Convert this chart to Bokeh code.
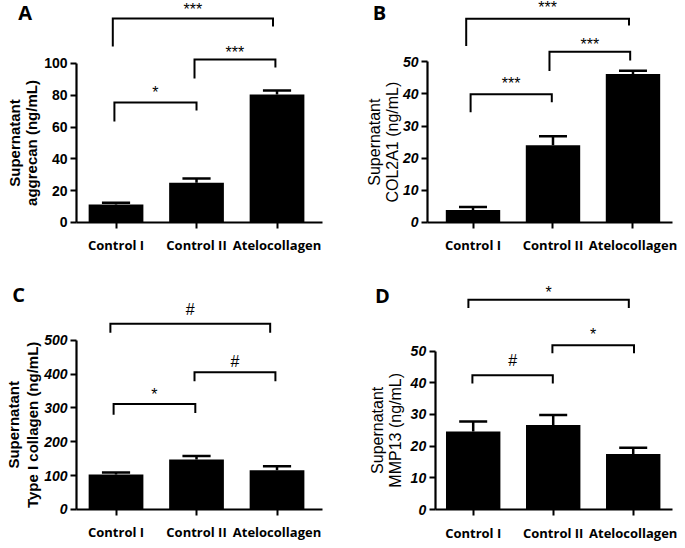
import math
from bokeh.plotting import figure
from bokeh.models import FixedTicker, Range1d
from bokeh.core.properties import value
from bokeh.layouts import column, row
from bokeh.embed import file_html
from bokeh.resources import INLINE

# ---------------- data ----------------
categories = ["Control I", "Control II", "Atelocollagen"]

aggrecan_mean = [11.3, 25.0, 80.5]
aggrecan_err = [1.1, 2.7, 2.5]
col2a1_mean = [3.9, 24.0, 46.2]
col2a1_err = [0.9, 2.8, 1.0]
type1_mean = [103, 148, 116]
type1_err = [6, 10, 12]
mmp13_mean = [24.6, 26.7, 17.5]
mmp13_err = [3.2, 3.1, 2.0]

aggrecan_ticks = [0, 20, 40, 60, 80, 100]
col2a1_ticks = [0, 10, 20, 30, 40, 50]
type1_ticks = [0, 100, 200, 300, 400, 500]
mmp13_ticks = [0, 10, 20, 30, 40, 50]

# significance brackets: left x, right x, top y, left leg end, right leg end, mark, mark y
aggrecan_br_left = [-0.04, 0.975, -0.02]
aggrecan_br_right = [1.95, 1.98, 1.0]
aggrecan_br_top = [128.3, 102.5, 75.5]
aggrecan_leg_left = [110.7, 90.6, 63.5]
aggrecan_leg_right = [123.3, 97.5, 70.4]
aggrecan_sig = ["***", "***", "*"]
aggrecan_sig_y = [134.2, 106.9, 81.8]

col2a1_br_left = [-0.085, 0.956, -0.03]
col2a1_br_right = [1.95, 1.965, 0.985]
col2a1_br_top = [63.4, 53.1, 39.9]
col2a1_leg_left = [54.9, 47.1, 34.3]
col2a1_leg_right = [61.3, 50.4, 37.4]
col2a1_sig = ["***", "***", "***"]
col2a1_sig_y = [66.9, 55.5, 43.2]

type1_br_left = [-0.07, 0.975, -0.03]
type1_br_right = [1.915, 1.98, 0.985]
type1_br_top = [548.6, 405.1, 311.4]
type1_leg_left = [522.0, 378.4, 279.7]
type1_leg_right = [522.0, 378.4, 284.7]
type1_sig = ["#", "#", "*"]
type1_sig_y = [591.0, 437.7, 339.9]

mmp13_br_left = [-0.06, 0.99, -0.01]
mmp13_br_right = [1.945, 2.01, 0.995]
mmp13_br_top = [66.2, 51.9, 42.4]
mmp13_leg_left = [63.6, 49.3, 39.8]
mmp13_leg_right = [63.6, 49.3, 39.8]
mmp13_sig = ["*", "*", "#"]
mmp13_sig_y = [68.6, 55.3, 47.1]


def make_panel(letter, means, errs, yticks, label_lines, label_bold, tick_style,
               br_left, br_right, br_top, leg_left, leg_right, sig, sig_y, lay):
    xs = list(range(len(categories)))
    p = figure(output_backend="svg", toolbar_location=None, title=None,
               x_range=Range1d(lay["x0"], lay["x1"]),
               y_range=Range1d(lay["y0"], lay["y1"]),
               frame_width=lay["fw"], frame_height=lay["fh"],
               min_border=0)
    p.grid.visible = False
    p.outline_line_color = None
    p.background_fill_color = "white"
    p.border_fill_color = "white"

    # bars
    p.vbar(x=xs, top=means, bottom=0, width=0.68, fill_color="black", line_color=None)
    # error bars (upper half)
    tops = [m + e for m, e in zip(means, errs)]
    p.segment(x0=xs, y0=means, x1=xs, y1=tops, line_color="black", line_width=2.5)
    cap = 0.175
    p.segment(x0=[x - cap for x in xs], y0=tops, x1=[x + cap for x in xs], y1=tops,
              line_color="black", line_width=2.5)

    # significance brackets
    bx = [[l, l, r, r] for l, r in zip(br_left, br_right)]
    by = [[a, t, t, b] for a, t, b in zip(leg_left, br_top, leg_right)]
    p.multi_line(xs=bx, ys=by, line_color="black", line_width=2, line_join="miter")
    p.text(x=[(l + r) / 2 for l, r in zip(br_left, br_right)], y=sig_y, text=sig,
           text_font=value("Liberation Sans"), text_font_size="16px",
           text_align="center", text_baseline="middle", text_color="black")

    # axes (placed at data locations inside the frame)
    xa = p.xaxis[0]
    xa.fixed_location = 0
    xa.ticker = FixedTicker(ticks=xs)
    xa.bounds = (lay["ax"], lay["xb"])
    xa.major_label_overrides = {i: c for i, c in enumerate(categories)}
    xa.major_label_text_font = "Open Sans"
    xa.major_label_text_font_style = "bold"
    xa.major_label_text_font_size = "13px"
    xa.major_label_text_color = "black"
    xa.major_label_standoff = 8
    xa.axis_line_width = 2.2
    xa.major_tick_line_width = 2
    xa.major_tick_out = 6
    xa.major_tick_in = 0
    xa.minor_tick_out = 0
    xa.minor_tick_in = 0

    ya = p.yaxis[0]
    ya.fixed_location = lay["ax"]
    ya.ticker = FixedTicker(ticks=yticks)
    ya.bounds = (0, yticks[-1])
    ya.major_label_text_font = "Liberation Sans"
    ya.major_label_text_font_style = tick_style
    ya.major_label_text_font_size = "14px"
    ya.major_label_text_color = "black"
    ya.major_label_standoff = 3
    ya.axis_line_width = 2.2
    ya.major_tick_line_width = 2
    ya.major_tick_out = 6
    ya.major_tick_in = 0
    ya.minor_tick_out = 0
    ya.minor_tick_in = 0

    # y-axis title (two lines, rotated)
    ymid = yticks[-1] / 2
    p.text(x=lay["lab_x"], y=[ymid, ymid], text=label_lines, angle=math.pi / 2,
           text_align="center", text_baseline="middle",
           text_font=value("Liberation Sans"),
           text_font_style="bold" if label_bold else "normal",
           text_font_size="15px" if label_bold else "16px", text_color="black")
    # panel letter
    p.text(x=[lay["let_x"]], y=[lay["let_y"]], text=[letter],
           text_align="center", text_baseline="middle",
           text_font=value("Open Sans"), text_font_style="bold",
           text_font_size="20px", text_color="black")
    return p


pA = make_panel("A", aggrecan_mean, aggrecan_err, aggrecan_ticks,
                ["Supernatant", "aggrecan (ng/mL)"], True, "bold",
                aggrecan_br_left, aggrecan_br_right, aggrecan_br_top,
                aggrecan_leg_left, aggrecan_leg_right, aggrecan_sig, aggrecan_sig_y,
                dict(x0=-1.435, x1=2.801, ax=-0.49, xb=2.565, y0=-32.7, y1=139.6,
                     fw=341, fh=274,
                     lab_x=[-1.26, -1.05], let_x=-1.13, let_y=131.8))
pB = make_panel("B", col2a1_mean, col2a1_err, col2a1_ticks,
                ["Supernatant", "COL2A1 (ng/mL)"], False, "bold italic",
                col2a1_br_left, col2a1_br_right, col2a1_br_top,
                col2a1_leg_left, col2a1_leg_right, col2a1_sig, col2a1_sig_y,
                dict(x0=-1.644, x1=2.594, ax=-0.569, xb=2.494, y0=-16.18, y1=69.07,
                     fw=339, fh=274,
                     lab_x=[-1.231, -1.006], let_x=-1.169, let_y=65.2))
pC = make_panel("C", type1_mean, type1_err, type1_ticks,
                ["Supernatant", "Type I collagen (ng/mL)"], True, "bold italic",
                type1_br_left, type1_br_right, type1_br_top,
                type1_leg_left, type1_leg_right, type1_sig, type1_sig_y,
                dict(x0=-1.435, x1=2.801, ax=-0.49, xb=2.565, y0=-103.4, y1=694.0,
                     fw=341, fh=270,
                     lab_x=[-1.277, -1.04], let_x=-1.21, let_y=635.5))
pD = make_panel("D", mmp13_mean, mmp13_err, mmp13_ticks,
                ["Supernatant", "MMP13 (ng/mL)"], False, "bold italic",
                mmp13_br_left, mmp13_br_right, mmp13_br_top,
                mmp13_leg_left, mmp13_leg_right, mmp13_sig, mmp13_sig_y,
                dict(x0=-1.646, x1=2.591, ax=-0.475, xb=2.49, y0=-11.05, y1=74.2,
                     fw=339, fh=270,
                     lab_x=[-1.2, -0.965], let_x=-1.134, let_y=67.6))

layout = column(row(pA, pB), row(pC, pD))
open("out.html", "w").write(file_html(layout, INLINE))
